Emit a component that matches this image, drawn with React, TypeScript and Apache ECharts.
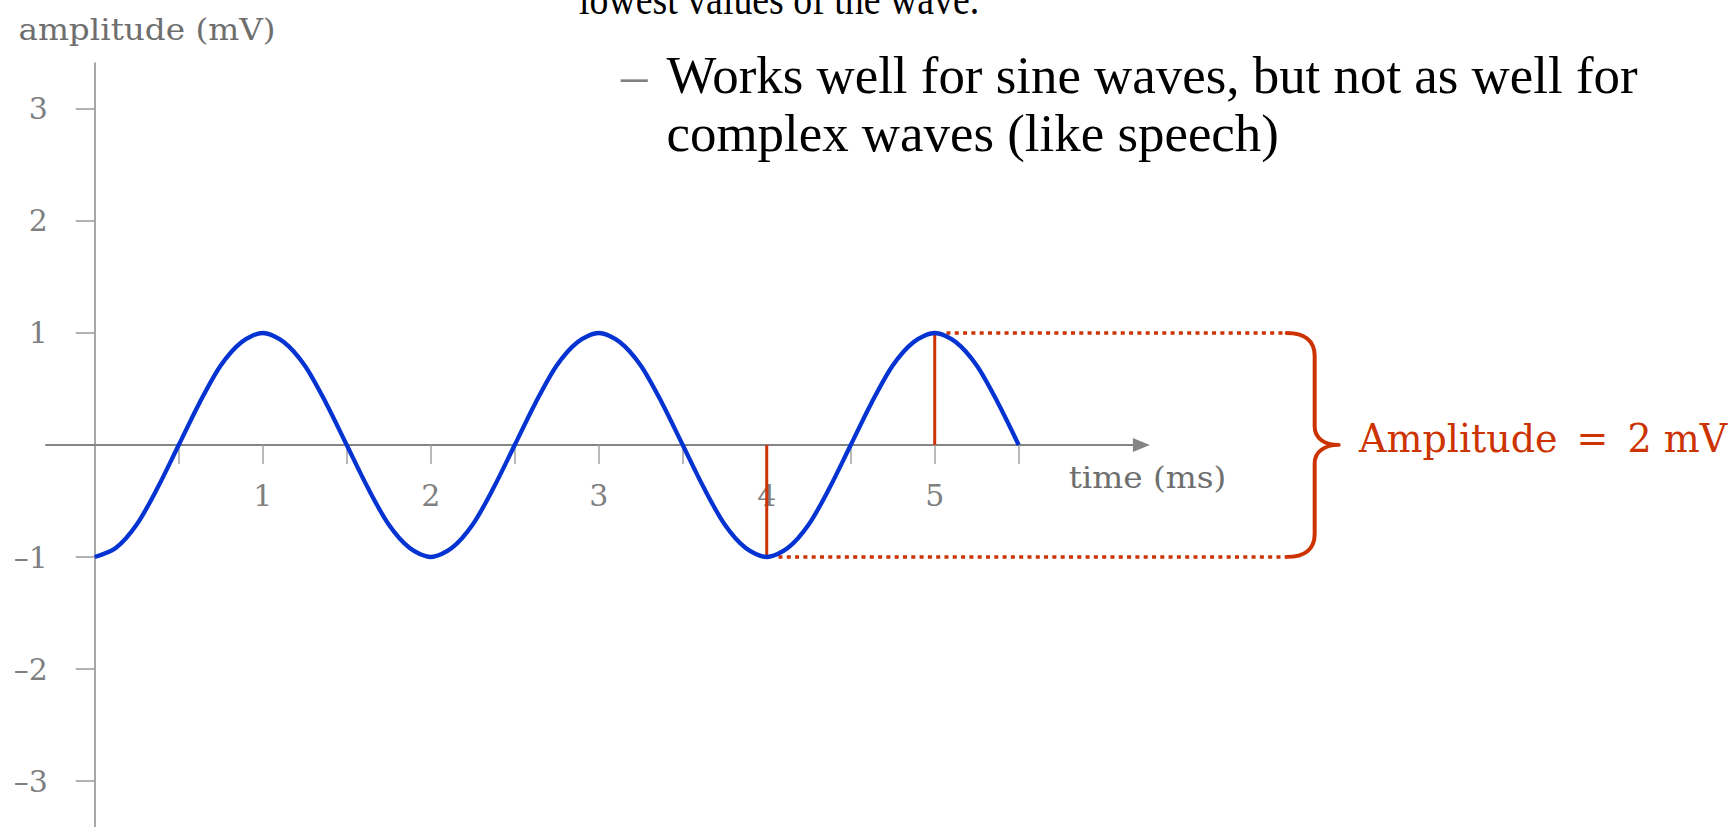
import { useEffect, useRef } from 'react';
import * as echarts from 'echarts';

// Sampled sine wave: time (ms) and amplitude (mV)
const timeMs = [
  0, 0.125, 0.25, 0.375, 0.5, 0.625, 0.75, 0.875,
  1, 1.125, 1.25, 1.375, 1.5, 1.625, 1.75, 1.875,
  2, 2.125, 2.25, 2.375, 2.5, 2.625, 2.75, 2.875,
  3, 3.125, 3.25, 3.375, 3.5, 3.625, 3.75, 3.875,
  4, 4.125, 4.25, 4.375, 4.5, 4.625, 4.75, 4.875,
  5, 5.125, 5.25, 5.375, 5.5,
];
const amplitudeMv = [
  -1, -0.92, -0.71, -0.38, 0, 0.38, 0.71, 0.92,
  1, 0.92, 0.71, 0.38, 0, -0.38, -0.71, -0.92,
  -1, -0.92, -0.71, -0.38, 0, 0.38, 0.71, 0.92,
  1, 0.92, 0.71, 0.38, 0, -0.38, -0.71, -0.92,
  -1, -0.92, -0.71, -0.38, 0, 0.38, 0.71, 0.92,
  1, 0.92, 0.71, 0.38, 0,
];

// Axis ticks and labels
const xTickValues = [0.5, 1, 1.5, 2, 2.5, 3, 3.5, 4, 4.5, 5, 5.5];
const xLabelValues = [1, 2, 3, 4, 5];
const yTickValues = [-3, -2, -1, 1, 2, 3];

// Amplitude annotation: trough and peak used for the measurement
const troughTime = 4;
const troughValue = -1;
const peakTime = 5;
const peakValue = 1;
const topGuideStart = 5.07;
const bottomGuideStart = 4.07;
const braceTime = 7.095;
const amplitudeText = 'Amplitude\u2002=\u20022 mV';

const RED = '#cc3300';
const BLUE = '#0433d1';
const GREY_TEXT = '#7f7f7f';
const SERIF = "'DejaVu Serif', serif";
const SLIDE_SERIF = "'Liberation Serif', 'Times New Roman', serif";

// Plot area and axis ranges
const GRID_LEFT = 46;
const GRID_TOP = 63;
const GRID_WIDTH = 1095.36;
const GRID_HEIGHT = 764;
const X_MIN = -0.29;
const X_MAX = 6.23;
const Y_MIN = -3.41;
const Y_MAX = 3.41;

// Both axes cross at the origin: shift them from the grid edges onto zero
const xZeroPx = GRID_LEFT + ((0 - X_MIN) * GRID_WIDTH) / (X_MAX - X_MIN);
const yZeroPx = GRID_TOP + ((Y_MAX - 0) * GRID_HEIGHT) / (Y_MAX - Y_MIN);
const yAxisOffset = -(xZeroPx - GRID_LEFT);
const xAxisOffset = -(GRID_TOP + GRID_HEIGHT - yZeroPx);

// Right curly brace, drawn in a 52 x 234 box with the tip pointing right
const BRACE_PATH =
  'M0 0 C18 0 28 8 28 24 L28 98 C28 110 38 117 52 117 C38 117 28 124 28 136 L28 210 C28 226 18 234 0 234';
echarts.graphic.registerShape('curlyBrace', echarts.graphic.extendPath(BRACE_PATH, {}));

// Negative ticks are written with an en dash
const fmtTick = (v: number) => (v < 0 ? '\u2013' + Math.abs(v) : String(v));

const textStyle = (extra: Record<string, unknown>) => ({
  align: 'left',
  textAlign: 'left',
  verticalAlign: 'middle',
  textVerticalAlign: 'middle',
  ...extra,
});

export default function App() {
  const ref = useRef<HTMLDivElement>(null);

  useEffect(() => {
    if (!ref.current) return;
    const chart = echarts.init(ref.current, null, { renderer: 'svg' });

    const wave = timeMs.map((t, i) => [t, amplitudeMv[i]]);

    chart.setOption({
      animation: false,
      backgroundColor: '#ffffff',
      grid: {
        left: GRID_LEFT,
        top: GRID_TOP,
        width: GRID_WIDTH,
        height: GRID_HEIGHT,
        outerBoundsMode: 'none',
        containLabel: false,
      },
      xAxis: {
        type: 'value',
        position: 'bottom',
        offset: xAxisOffset,
        min: X_MIN,
        max: X_MAX,
        splitLine: { show: false },
        axisLine: {
          onZero: false,
          symbol: ['none', 'triangle'],
          symbolSize: [14, 17],
          lineStyle: { color: '#858585', width: 2 },
        },
        axisTick: {
          show: true,
          inside: false,
          length: 19,
          customValues: xTickValues,
          lineStyle: { color: '#a0a0a0', width: 1.5 },
        },
        axisLabel: {
          show: true,
          customValues: xLabelValues,
          margin: 35,
          fontFamily: SERIF,
          fontSize: 30,
          color: GREY_TEXT,
          formatter: fmtTick,
        },
      },
      yAxis: {
        type: 'value',
        position: 'left',
        offset: yAxisOffset,
        min: Y_MIN,
        max: Y_MAX,
        splitLine: { show: false },
        axisLine: {
          onZero: false,
          lineStyle: { color: '#8a8a8a', width: 1.5 },
        },
        axisTick: {
          show: true,
          inside: false,
          length: 19,
          customValues: yTickValues,
          lineStyle: { color: '#9a9a9a', width: 1.5 },
        },
        axisLabel: {
          show: true,
          customValues: yTickValues,
          margin: 47,
          fontFamily: SERIF,
          fontSize: 30,
          color: GREY_TEXT,
          formatter: fmtTick,
        },
      },
      series: [
        {
          name: 'trough marker',
          type: 'line',
          data: [[troughTime, troughValue], [troughTime, 0]],
          showSymbol: false,
          lineStyle: { color: RED, width: 3 },
          z: 2,
          silent: true,
        },
        {
          name: 'peak marker',
          type: 'line',
          data: [[peakTime, 0], [peakTime, peakValue]],
          showSymbol: false,
          lineStyle: { color: RED, width: 3 },
          z: 2,
          silent: true,
        },
        {
          name: 'signal',
          type: 'line',
          data: wave,
          smooth: 0.3,
          showSymbol: false,
          lineStyle: { color: BLUE, width: 4.3 },
          z: 3,
          silent: true,
        },
      ],
    });

    const px = (t: number, v: number) =>
      chart.convertToPixel({ gridIndex: 0 }, [t, v]) as number[];
    const top = px(braceTime, peakValue);
    const bottom = px(braceTime, troughValue);
    const topStart = px(topGuideStart, peakValue);
    const bottomStart = px(bottomGuideStart, troughValue);
    const braceScale = (bottom[1] - top[1]) / 234;
    const guideStyle = { stroke: RED, lineWidth: 3.5, lineDash: [4, 4.3] };

    chart.setOption({
      graphic: [
        {
          type: 'text',
          x: 579,
          y: -1.5,
          scaleX: 0.86,
          style: textStyle({
            text: 'lowest values of the wave.',
            fontFamily: SLIDE_SERIF,
            fontSize: 44,
            fill: '#000',
          }),
        },
        {
          type: 'text',
          x: 621,
          y: 75,
          style: textStyle({
            text: '\u2013',
            fontFamily: SLIDE_SERIF,
            fontSize: 52.9,
            fill: '#808080',
          }),
        },
        {
          type: 'text',
          x: 666.5,
          y: 45.8,
          style: textStyle({
            text: 'Works well for sine waves, but not as well for\ncomplex waves (like speech)',
            fontFamily: SLIDE_SERIF,
            fontSize: 52.9,
            lineHeight: 58,
            fill: '#000',
            verticalAlign: 'top',
            textVerticalAlign: 'top',
          }),
        },
        {
          type: 'text',
          x: 18.4,
          y: 29.6,
          scaleX: 1.09,
          style: textStyle({
            text: 'amplitude (mV)',
            fontFamily: SERIF,
            fontSize: 30,
            fill: '#6e6e6e',
          }),
        },
        {
          type: 'text',
          x: 1068.7,
          y: 477.9,
          scaleX: 1.09,
          style: textStyle({
            text: 'time (ms)',
            fontFamily: SERIF,
            fontSize: 30,
            fill: '#6e6e6e',
          }),
        },
        {
          type: 'line',
          shape: { x1: topStart[0], y1: topStart[1], x2: top[0], y2: top[1] },
          style: guideStyle,
        },
        {
          type: 'line',
          shape: { x1: bottomStart[0], y1: bottomStart[1], x2: bottom[0], y2: bottom[1] },
          style: guideStyle,
        },
        {
          type: 'curlyBrace',
          x: top[0],
          y: top[1],
          scaleX: 1,
          scaleY: braceScale,
          style: {
            fill: 'none',
            stroke: RED,
            lineWidth: 4,
            strokeNoScale: true,
            lineJoin: 'round',
            lineCap: 'round',
          },
        },
        {
          type: 'text',
          x: top[0] + 72.3,
          y: (top[1] + bottom[1]) / 2 - 7,
          scaleX: 0.95,
          style: textStyle({
            text: amplitudeText,
            fontFamily: SERIF,
            fontSize: 40,
            fill: RED,
          }),
        },
      ],
    });

    return () => chart.dispose();
  }, []);

  return (
    <div
      ref={ref}
      style={{ position: 'fixed', left: 0, top: 0, width: 1730, height: 827, background: '#fff' }}
    />
  );
}
